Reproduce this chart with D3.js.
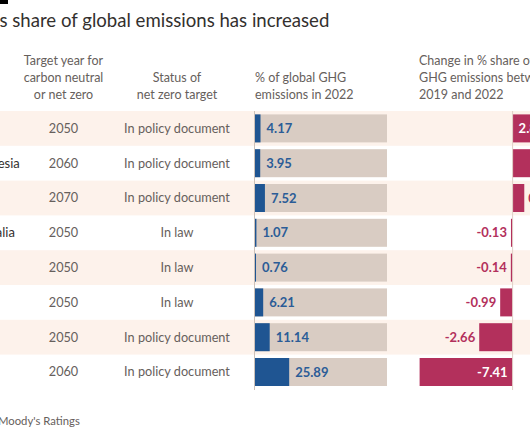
<!DOCTYPE html>
<html><head><meta charset="utf-8">
<script src="https://cdn.jsdelivr.net/npm/d3@7"></script>
<style>
body{margin:0;background:#fff;}
svg{display:block;}
text{font-family:Lato,"Noto Sans",sans-serif;}
</style></head>
<body><svg id="c" width="530" height="442"></svg>
<script>
const countries = ["Brazil","Indonesia","India","Australia","UK","EU","US","China"];
const targetYears = ["2050","2060","2070","2050","2050","2050","2050","2060"];
const statuses = ["In policy document","In policy document","In policy document","In law","In law","In law","In policy document","In policy document"];
const share2022 = [4.17,3.95,7.52,1.07,0.76,6.21,11.14,25.89];
const change = [2.87,2.05,0.93,-0.13,-0.14,-0.99,-2.66,-7.41];
const titlePrefix = "India\u2019";
const titleText = "India\u2019s share of global emissions has increased";
const sourcePrefix = "Source: ";
const sourceText = "Source: Moody's Ratings";

const svg = d3.select("#c");
const W = 530;
const grey = "#66605c";

const y = d3.scaleBand().domain(d3.range(countries.length)).range([111, 389.4]).padding(0);
const xShare = d3.scaleLinear().domain([0,100]).range([255,387]);
const xChg = d3.scaleLinear().domain([-8,2]).range([412.2,537.7]);
const barH = 28;

// top rule
svg.append("rect").attr("x",-60).attr("y",0).attr("width",68).attr("height",4).attr("fill","#000");

// title (cropped at the left like the reference)
const title = svg.append("text").attr("x",0).attr("y",27).attr("font-size",18.6).attr("fill","#33302e").text(titleText);
const pw = title.node().getSubStringLength(0, titlePrefix.length);
title.attr("x", -0.5 - pw);

// stripes
svg.selectAll("rect.stripe").data(d3.range(countries.length).filter(i=>i%2===0)).join("rect")
  .attr("x",0).attr("width",W).attr("y",i=>y(i)).attr("height",y.bandwidth()).attr("fill","#fdf2eb");

// headers
function header(lines, x, anchor, y0){
  const t = svg.append("text").attr("font-size",12.5).attr("fill",grey).attr("text-anchor",anchor);
  lines.forEach((l,i)=>{ if(l) t.append("tspan").attr("x",x).attr("y",y0+i*17).text(l); });
}
header(["Target year for","carbon neutral","or net zero"],63.5,"middle",64.5);
header(["Status of","net zero target"],177,"middle",81.5);
header(["% of global GHG","emissions in 2022"],255,"start",81.5);
header(["Change in % share of global","GHG emissions between","2019 and 2022"],419,"start",64.5);

const rows = d3.range(countries.length);
const cy = i => y(i)+y.bandwidth()/2;

svg.selectAll("text.country").data(rows).join("text")
  .attr("x",-35).attr("y",i=>cy(i)).attr("dy","0.35em").attr("font-size",13).attr("fill","#33302e").text(i=>countries[i]);
svg.selectAll("text.year").data(rows).join("text")
  .attr("x",63.5).attr("y",i=>cy(i)).attr("dy","0.35em").attr("text-anchor","middle").attr("font-size",12.7).attr("fill",grey).text(i=>targetYears[i]);
svg.selectAll("text.status").data(rows).join("text")
  .attr("x",177).attr("y",i=>cy(i)).attr("dy","0.35em").attr("text-anchor","middle").attr("font-size",12.7).attr("fill",grey).text(i=>statuses[i]);

// share bars
svg.selectAll("rect.bg").data(rows).join("rect")
  .attr("x",xShare(0)).attr("width",xShare(100)-xShare(0)).attr("y",i=>cy(i)-barH/2).attr("height",barH).attr("fill","#d9ccc3");
svg.selectAll("rect.sh").data(rows).join("rect")
  .attr("x",xShare(0)).attr("width",i=>xShare(share2022[i])-xShare(0)).attr("y",i=>cy(i)-barH/2).attr("height",barH).attr("fill","#1f5592");
svg.selectAll("text.sh").data(rows).join("text")
  .attr("x",i=>xShare(share2022[i])+6).attr("y",i=>cy(i)).attr("dy","0.35em").attr("font-size",13).attr("font-weight","bold").attr("fill","#2b5c97").text(i=>share2022[i].toFixed(2));
svg.append("line").attr("x1",xShare(0)-0.5).attr("x2",xShare(0)-0.5).attr("y1",111).attr("y2",390).attr("stroke","#ccc1b9").attr("stroke-width",1);

// change bars
svg.selectAll("rect.ch").data(rows).join("rect")
  .attr("x",i=>Math.min(xChg(0),xChg(change[i]))).attr("width",i=>Math.abs(xChg(change[i])-xChg(0)))
  .attr("y",i=>cy(i)-barH/2).attr("height",barH).attr("fill","#b3305c");
svg.append("line").attr("x1",xChg(0)).attr("x2",xChg(0)).attr("y1",111).attr("y2",390).attr("stroke","#e0cfc7").attr("stroke-width",1);
svg.selectAll("text.ch").data(rows).join("text")
  .each(function(i){
    const v = change[i], w = Math.abs(xChg(v)-xChg(0)), inside = w>34;
    const t = d3.select(this).attr("y",cy(i)).attr("dy","0.35em").attr("font-size",13).attr("font-weight","bold").text(v.toFixed(2));
    if(inside){ t.attr("fill","#fff");
      if(v<0) t.attr("x",xChg(0)-5).attr("text-anchor","end"); else t.attr("x",xChg(0)+6).attr("text-anchor","start");
    } else { t.attr("fill","#b3305c");
      if(v<0) t.attr("x",xChg(v)-4).attr("text-anchor","end"); else t.attr("x",xChg(v)+4).attr("text-anchor","start");
    }
  });

const src = svg.append("text").attr("x",0).attr("y",425).attr("font-size",11.3).attr("fill",grey).text(sourceText);
const sw = src.node().getSubStringLength(0, sourcePrefix.length);
src.attr("x", -2 - sw);
</script></body></html>
